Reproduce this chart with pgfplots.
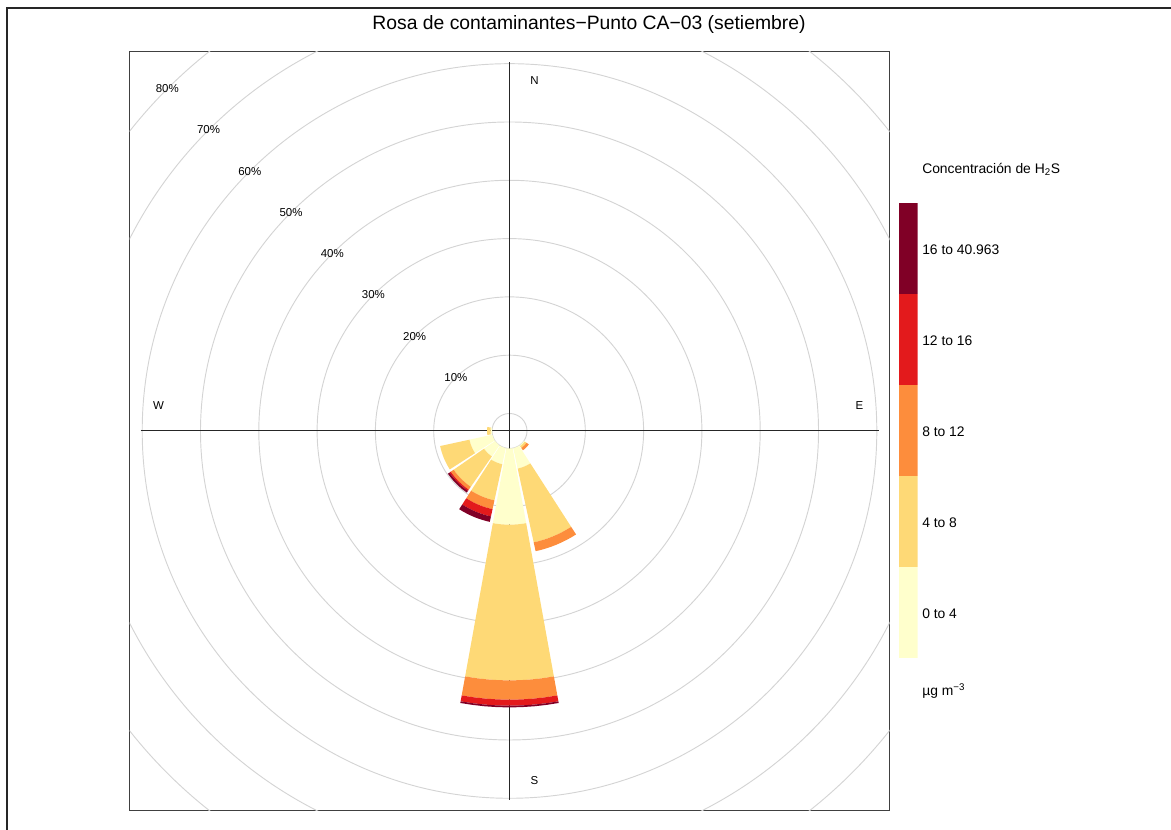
\documentclass[border=0pt]{standalone}
\usepackage{pgfplots}
\pgfplotsset{compat=1.18}
\usepackage{fontspec}
\setmainfont{Liberation Sans}
\definecolor{c1}{HTML}{FFFFCC}
\definecolor{c2}{HTML}{FED976}
\definecolor{c3}{HTML}{FD8D3C}
\definecolor{c4}{HTML}{E31A1C}
\definecolor{c5}{HTML}{800026}
\newcommand\off{3.0}
% \band{direction}{cumulative % inner}{cumulative % outer}{colour}
\newcommand\band[4]{%
  \pgfmathsetmacro\rA{\off+#2}%
  \pgfmathsetmacro\rB{\off+#3}%
  \gdef\bandpts{}%
  \foreach \k in {0,...,8}{%
    \pgfmathsetmacro\bb{#1-10.25+2.5625*\k}%
    \pgfmathsetmacro\xx{\rB*sin(\bb)}%
    \pgfmathsetmacro\yy{\rB*cos(\bb)}%
    \xdef\bandpts{\bandpts (\xx,\yy)}%
  }%
  \foreach \k in {8,7,...,0}{%
    \pgfmathsetmacro\bb{#1-10.25+2.5625*\k}%
    \pgfmathsetmacro\xx{\rA*sin(\bb)}%
    \pgfmathsetmacro\yy{\rA*cos(\bb)}%
    \xdef\bandpts{\bandpts (\xx,\yy)}%
  }%
  \edef\doband{\noexpand\addplot[fill=#4, draw=none, forget plot] coordinates {\bandpts} -- cycle;}%
  \doband
}
\begin{document}
\begin{tikzpicture}
\useasboundingbox (0,0) rectangle (878.25pt,622.5pt);
% outer frame
\draw[line width=1.3pt, black!85] (5.0pt,0) -- (5.0pt,616.5pt) -- (878.25pt,616.5pt);
% title
\node[font=\fontsize{14.5}{17}\selectfont] at (441.75pt,603.75pt) {Rosa de contaminantes−Punto CA−03 (setiembre)};
\begin{axis}[at={(97.125pt,14.625pt)}, anchor=south west, scale only axis,
  width=570pt, height=569.25pt,
  xmin=-65.18, xmax=65.18, ymin=-65.09, ymax=65.09,
  xtick=\empty, ytick=\empty,
  axis line style={black!75, line width=0.75pt}]
% grid circles
\draw[black!17, line width=0.7pt] (axis cs:0,0) circle[radius=13.125pt];
\draw[black!17, line width=0.7pt] (axis cs:0,0) circle[radius=56.85pt];
\draw[black!17, line width=0.7pt] (axis cs:0,0) circle[radius=100.575pt];
\draw[black!17, line width=0.7pt] (axis cs:0,0) circle[radius=144.3pt];
\draw[black!17, line width=0.7pt] (axis cs:0,0) circle[radius=188.025pt];
\draw[black!17, line width=0.7pt] (axis cs:0,0) circle[radius=231.75pt];
\draw[black!17, line width=0.7pt] (axis cs:0,0) circle[radius=275.475pt];
\draw[black!17, line width=0.7pt] (axis cs:0,0) circle[radius=319.2pt];
\draw[black!17, line width=0.7pt] (axis cs:0,0) circle[radius=362.925pt];
\draw[black!85, line width=0.75pt] (axis cs:0,-63.29) -- (axis cs:0,63.29);
\draw[black!85, line width=0.75pt] (axis cs:-63.29,0) -- (axis cs:63.29,0);
% petals
\band{135}{0}{0.17}{c1}
\band{135}{0.17}{0.55}{c2}
\band{135}{0.55}{1.03}{c3}
\band{157.5}{0}{3.6}{c1}
\band{157.5}{3.6}{16.55}{c2}
\band{157.5}{16.55}{18.1}{c3}
\band{180}{0}{13.07}{c1}
\band{180}{13.07}{39.78}{c2}
\band{180}{39.78}{43.09}{c3}
\band{180}{43.09}{44.12}{c4}
\band{180}{44.12}{44.41}{c5}
\band{202.5}{0}{2.83}{c1}
\band{202.5}{2.83}{9.18}{c2}
\band{202.5}{9.18}{10.72}{c3}
\band{202.5}{10.72}{12.0}{c4}
\band{202.5}{12.0}{12.95}{c5}
\band{225}{0}{2.32}{c1}
\band{225}{2.32}{8.66}{c2}
\band{225}{8.66}{9.26}{c3}
\band{225}{9.26}{9.52}{c4}
\band{225}{9.52}{9.86}{c5}
\band{247.5}{0}{4.03}{c1}
\band{247.5}{4.03}{9.18}{c2}
\band{270}{0}{0.26}{c1}
\band{270}{0.26}{0.86}{c2}
% labels
\begin{scope}[every node/.style={font=\fontsize{8.6}{10}\selectfont, inner sep=0pt}]
\node at (axis cs:-9.192,9.192) {10\%};
\node at (axis cs:-16.263,16.263) {20\%};
\node at (axis cs:-23.334,23.334) {30\%};
\node at (axis cs:-30.405,30.405) {40\%};
\node at (axis cs:-37.476,37.476) {50\%};
\node at (axis cs:-44.548,44.548) {60\%};
\node at (axis cs:-51.619,51.619) {70\%};
\node at (axis cs:-58.690,58.690) {80\%};
\node at (axis cs:4.29,60.05) {N};
\node at (axis cs:4.29,-60.0) {S};
\node at (axis cs:-60.2,4.34) {W};
\node at (axis cs:60.03,4.34) {E};
\end{scope}
\end{axis}
% colour key
\begin{axis}[at={(673.875pt,128.625pt)}, anchor=south west, scale only axis,
  width=14.25pt, height=341.625pt, xmin=-0.5, xmax=0.5, ymin=0, ymax=5,
  hide axis, ybar stacked, bar width=14.25pt]
\addplot[fill=c1, draw=none] coordinates {(0,1)};
\addplot[fill=c2, draw=none] coordinates {(0,1)};
\addplot[fill=c3, draw=none] coordinates {(0,1)};
\addplot[fill=c4, draw=none] coordinates {(0,1)};
\addplot[fill=c5, draw=none] coordinates {(0,1)};
\end{axis}
\begin{scope}[every node/.style={font=\fontsize{10.4}{12}\selectfont, anchor=west, inner sep=0pt}]
\node at (691.5pt,495.5pt) {Concentración de H\textsubscript{2}S};
\node at (691.5pt,435.0pt) {16 to 40.963};
\node at (691.5pt,366.75pt) {12 to 16};
\node at (691.5pt,298.5pt) {8 to 12};
\node at (691.5pt,230.25pt) {4 to 8};
\node at (691.5pt,162.0pt) {0 to 4};
\node at (691.5pt,104.25pt) {µg m\textsuperscript{−3}};
\end{scope}
\end{tikzpicture}
\end{document}
